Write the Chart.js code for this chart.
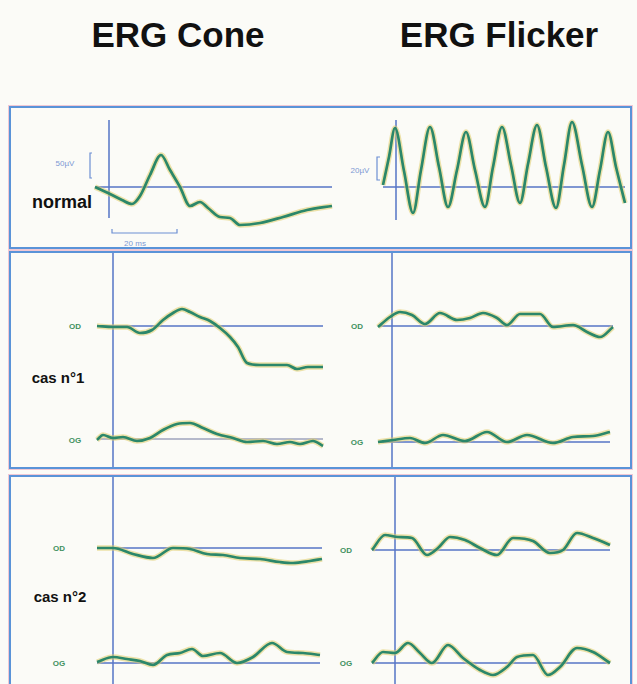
<!DOCTYPE html>
<html>
<head>
<meta charset="utf-8">
<script src="https://cdn.jsdelivr.net/npm/chart.js@4"></script>
<style>
body{margin:0;width:637px;height:684px;overflow:hidden;position:relative;background:#fbfbf7;font-family:"Liberation Sans",Arial,sans-serif}
.panel{position:absolute;border:2px solid #5a93d8;box-sizing:border-box;box-shadow:0 0 0 1px #f0c8d4}
.lbl{position:absolute;transform:translate(-50%,-50%);white-space:nowrap;font-weight:bold}
.title{font-size:35px;color:#111}
.side{color:#111}
.eye{font-size:8px;color:#3f9160}
.unit{font-size:8px;color:#7b98d4;font-weight:normal}
canvas{position:absolute}
</style>
</head>
<body>
<div class="panel" style="left:9px;top:106px;width:623px;height:143px"></div>
<div class="panel" style="left:9px;top:251px;width:623px;height:218px"></div>
<div class="panel" style="left:9px;top:475px;width:623px;height:215px"></div>

<div class="lbl title" style="left:178px;top:35px">ERG Cone</div>
<div class="lbl title" style="left:499px;top:35px">ERG Flicker</div>
<div class="lbl side" style="left:62px;top:202px;font-size:18px">normal</div>
<div class="lbl side" style="left:58px;top:377px;font-size:15px">cas n°1</div>
<div class="lbl side" style="left:60px;top:596px;font-size:15px">cas n°2</div>

<div class="lbl unit" style="left:65px;top:163px">50µV</div>
<div class="lbl unit" style="left:360px;top:170px">20µV</div>
<div class="lbl unit" style="left:135px;top:243px">20 ms</div>

<div class="lbl eye" style="left:75px;top:326px">OD</div>
<div class="lbl eye" style="left:75px;top:440px">OG</div>
<div class="lbl eye" style="left:357px;top:326px">OD</div>
<div class="lbl eye" style="left:357px;top:442px">OG</div>
<div class="lbl eye" style="left:59px;top:548px">OD</div>
<div class="lbl eye" style="left:59px;top:663px">OG</div>
<div class="lbl eye" style="left:346px;top:550px">OD</div>
<div class="lbl eye" style="left:346px;top:663px">OG</div>

<script>
// time from flash (x) and response from baseline (y)
const coneNormalT = [-14, 1, 13, 23, 31, 41, 52, 61, 71, 81, 91, 99, 111, 121, 131, 151, 174, 198, 223];
const coneNormalV = [0, -7, -13, -17, -9, 12, 32, 17, 0, -19, -15, -21, -30, -31, -38, -36, -30, -23, -19];

const flickerNormalT = [-13, -7, -1, 8, 17, 25, 34, 43, 52, 61, 70, 79, 89, 97, 106, 115, 124, 132, 141, 150, 160, 168, 176, 186, 196, 204, 212, 220, 229];
const flickerNormalV = [2, 30, 59, 16, -26, 17, 60, 20, -20, 17, 55, 17, -20, 20, 60, 22, -16, 23, 62, 20, -21, 22, 65, 22, -20, 17, 55, 20, -16];

const cone1OdT = [-16, 0, 14, 27, 39, 50, 60, 69, 77, 87, 97, 107, 117, 125, 134, 147, 164, 174, 184, 195, 210];
const cone1OdV = [0, -1, -1, -7, -4, 6, 13, 17, 14, 9, 5, -2, -11, -21, -37, -39, -39, -39, -43, -41, -41];
const cone1OgT = [-16, -10, 0, 10, 24, 37, 50, 64, 77, 90, 104, 120, 134, 150, 164, 177, 187, 200, 210];
const cone1OgV = [-1, 4, 1, 2, -2, 1, 9, 15, 16, 11, 5, 1, -3, -2, -5, -3, -5, -2, -7];

const flicker1OdT = [-14, -2, 8, 20, 33, 48, 65, 78, 91, 105, 115, 128, 148, 161, 181, 195, 208, 221];
const flicker1OdV = [-1, 9, 14, 11, 2, 13, 6, 8, 13, 8, 1, 12, 12, -1, 1, -6, -11, -1];
const flicker1OgT = [-14, 1, 18, 33, 51, 73, 95, 115, 135, 161, 181, 201, 218];
const flicker1OgV = [0, 2, 4, -1, 7, 1, 10, 0, 7, -1, 5, 6, 10];

const cone2OdT = [-16, 0, 20, 40, 60, 77, 94, 110, 127, 147, 167, 180, 197, 209];
const cone2OdV = [0, 0, -6, -10, 0, -1, -6, -7, -10, -11, -14, -15, -13, -11];
const cone2OgT = [-16, 0, 14, 27, 40, 54, 67, 79, 90, 107, 124, 140, 159, 174, 190, 207];
const cone2OgV = [1, 6, 4, 2, -2, 8, 10, 14, 7, 10, 0, 6, 20, 11, 10, 8];

const flicker2OdT = [-23, -10, 3, 17, 32, 43, 55, 70, 85, 102, 118, 138, 155, 168, 182, 198, 215];
const flicker2OdV = [0, 15, 13, 12, -5, 2, 13, 10, 2, -5, 12, 9, -3, 0, 17, 12, 5];
const flicker2OgT = [-23, -12, 0, 13, 25, 37, 53, 68, 85, 98, 112, 122, 138, 153, 165, 182, 198, 215];
const flicker2OgV = [0, 11, 10, 20, 10, 0, 18, 5, -7, -12, -4, 6, 8, -12, -4, 15, 11, 0];

// calibration marks of the normal recordings
const coneAmpBarT = [-17, -19, -19, -17];
const coneAmpBarV = [34, 34, 9, 9];
const coneTimeBarT = [3, 3, 68, 68];
const coneTimeBarV = [-42, -46, -46, -42];
const flickerAmpBarT = [-16, -19, -19, -16];
const flickerAmpBarV = [30, 30, 7, 7];

const green = '#2b876a';
const halo = 'rgba(224,204,104,0.55)';
const blue = '#5675c6';

function line(data, color, width, order, yAxisID, smooth) {
    return {
        data: data,
        borderColor: color,
        borderWidth: width,
        pointRadius: 0,
        fill: false,
        order: order,
        yAxisID: yAxisID,
        tension: 0,
        cubicInterpolationMode: smooth ? 'monotone' : 'default'
    };
}

function toPoints(t, v) {
    return t.map((x, i) => ({ x: x, y: v[i] }));
}

// box: [left, top, right, bottom] on the page; x0 = flash time position, y0/y1 = baselines
function drawRecording(box, x0, y0, y1, traces, axisSpan, marks) {
    const [left, top, right, bottom] = box;
    const canvas = document.createElement('canvas');
    canvas.width = right - left;
    canvas.height = bottom - top;
    canvas.style.left = left + 'px';
    canvas.style.top = top + 'px';
    document.body.appendChild(canvas);

    const datasets = [];
    traces.forEach(tr => {
        const axis = tr.lower ? 'y2' : 'y';
        const pts = toPoints(tr.t, tr.v);
        datasets.push(line([{ x: tr.t[0], y: 0 }, { x: tr.t[tr.t.length - 1], y: 0 }], tr.base || blue, 1.5, 3, axis));
        datasets.push(line(pts, halo, 5.5, 1, axis, true));
        datasets.push(line(pts, green, 2.7, 0, axis, true));
    });
    const span = axisSpan || [y0 - top, y0 - bottom];
    datasets.push(line([{ x: 0, y: span[0] }, { x: 0, y: span[1] }], blue, 1.5, 2, 'y'));
    (marks || []).forEach(m => datasets.push(line(toPoints(m.t, m.v), '#6d8fd3', 1.2, 2, 'y')));

    new Chart(canvas, {
        type: 'line',
        data: { datasets: datasets },
        options: {
            animation: false,
            responsive: false,
            events: [],
            layout: { padding: 0 },
            plugins: { legend: { display: false }, tooltip: { enabled: false } },
            scales: {
                x: { type: 'linear', display: false, min: left - x0, max: right - x0 },
                y: { display: false, min: y0 - bottom, max: y0 - top },
                y2: { display: false, min: y1 - bottom, max: y1 - top }
            }
        }
    });
}

drawRecording([12, 109, 350, 247], 109, 187, 187,
    [{ t: coneNormalT, v: coneNormalV }], [67, -31],
    [{ t: coneAmpBarT, v: coneAmpBarV }, { t: coneTimeBarT, v: coneTimeBarV }]);
drawRecording([350, 109, 630, 247], 396, 187, 187,
    [{ t: flickerNormalT, v: flickerNormalV }], [67, -33],
    [{ t: flickerAmpBarT, v: flickerAmpBarV }]);

drawRecording([12, 253, 345, 467], 113, 326, 439,
    [{ t: cone1OdT, v: cone1OdV }, { t: cone1OgT, v: cone1OgV, lower: true, base: '#9ea3bd' }]);
drawRecording([345, 253, 630, 467], 392, 326, 442,
    [{ t: flicker1OdT, v: flicker1OdV }, { t: flicker1OgT, v: flicker1OgV, lower: true }]);

drawRecording([12, 477, 345, 684], 113, 548, 663,
    [{ t: cone2OdT, v: cone2OdV }, { t: cone2OgT, v: cone2OgV, lower: true }]);
drawRecording([345, 477, 630, 684], 395, 550, 663,
    [{ t: flicker2OdT, v: flicker2OdV }, { t: flicker2OgT, v: flicker2OgV, lower: true }]);
</script>
</body>
</html>
